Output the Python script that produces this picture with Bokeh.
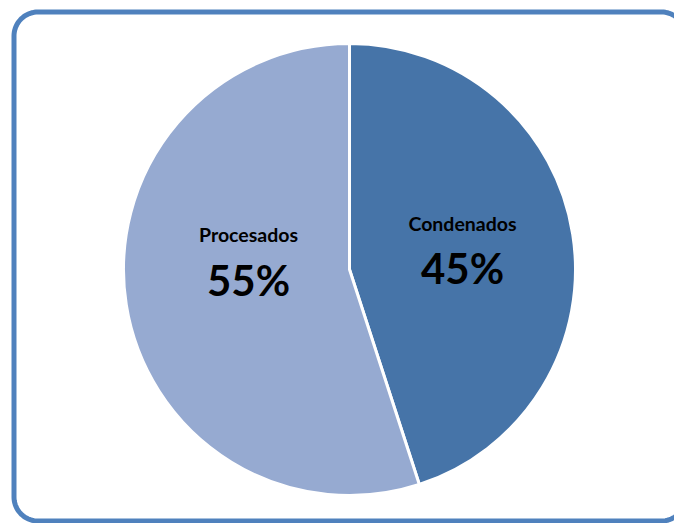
import numpy as np
from bokeh.plotting import figure
from bokeh.models import Range1d, ColumnDataSource
from bokeh.core.properties import value
from bokeh.embed import file_html
from bokeh.resources import INLINE

# Data
categories = ["Condenados", "Procesados"]
shares = [45, 55]
colors = ["#4674A8", "#96AAD1"]

W, H = 674, 523
# data coordinates: x = screen x, y = 523 - screen y
p = figure(width=W, height=H, output_backend="svg", toolbar_location=None,
           x_range=Range1d(0, W), y_range=Range1d(0, H),
           min_border=0)
p.axis.visible = False
p.grid.visible = False
p.outline_line_color = None
p.background_fill_color = "white"
p.border_fill_color = "white"

# rounded border (decoration)
def rounded_rect(x0, y0, x1, y1, r, n=20):
    xs, ys = [], []
    corners = [(x1 - r, y1 - r, 0, np.pi / 2), (x0 + r, y1 - r, np.pi / 2, np.pi),
               (x0 + r, y0 + r, np.pi, 1.5 * np.pi), (x1 - r, y0 + r, 1.5 * np.pi, 2 * np.pi)]
    for cx, cy, a0, a1 in corners:
        t = np.linspace(a0, a1, n)
        xs.extend(cx + r * np.cos(t))
        ys.extend(cy + r * np.sin(t))
    xs.append(xs[0]); ys.append(ys[0])
    return xs, ys

bx, by = rounded_rect(13.5, 523 - 520.5, 685, 523 - 11.5, 24)
p.line(bx, by, line_color="#4F81BD", line_width=5)

# Pie
total = sum(shares)
fracs = np.array(shares) / total
ends = np.pi / 2 - 2 * np.pi * np.cumsum(fracs)
starts = np.concatenate([[np.pi / 2], ends[:-1]])
cx, cy, R = 349, 523 - 269, 226
src = ColumnDataSource(dict(cat=categories, start=starts, end=ends, color=colors))
p.wedge(x=cx, y=cy, radius=R, start_angle="start", end_angle="end", direction="clock",
        fill_color="color", line_color="white", line_width=3, source=src)

# labels
pct = [f"{s}%" for s in shares]
name_y = [523 - 223, 523 - 234]
pct_y = [523 - 267, 523 - 279]
label_x = [462, 248]
p.text(x=label_x, y=name_y, text=categories, text_align="center", text_baseline="alphabetic",
       text_font=value("Lato"), text_font_style="bold", text_font_size="19.5px", text_color="black")
p.text(x=label_x, y=pct_y, text=pct, text_align="center", text_baseline="alphabetic",
       text_font=value("Lato"), text_font_style="bold", text_font_size="42px", text_color="black")

open("out.html", "w").write(file_html(p, INLINE))
